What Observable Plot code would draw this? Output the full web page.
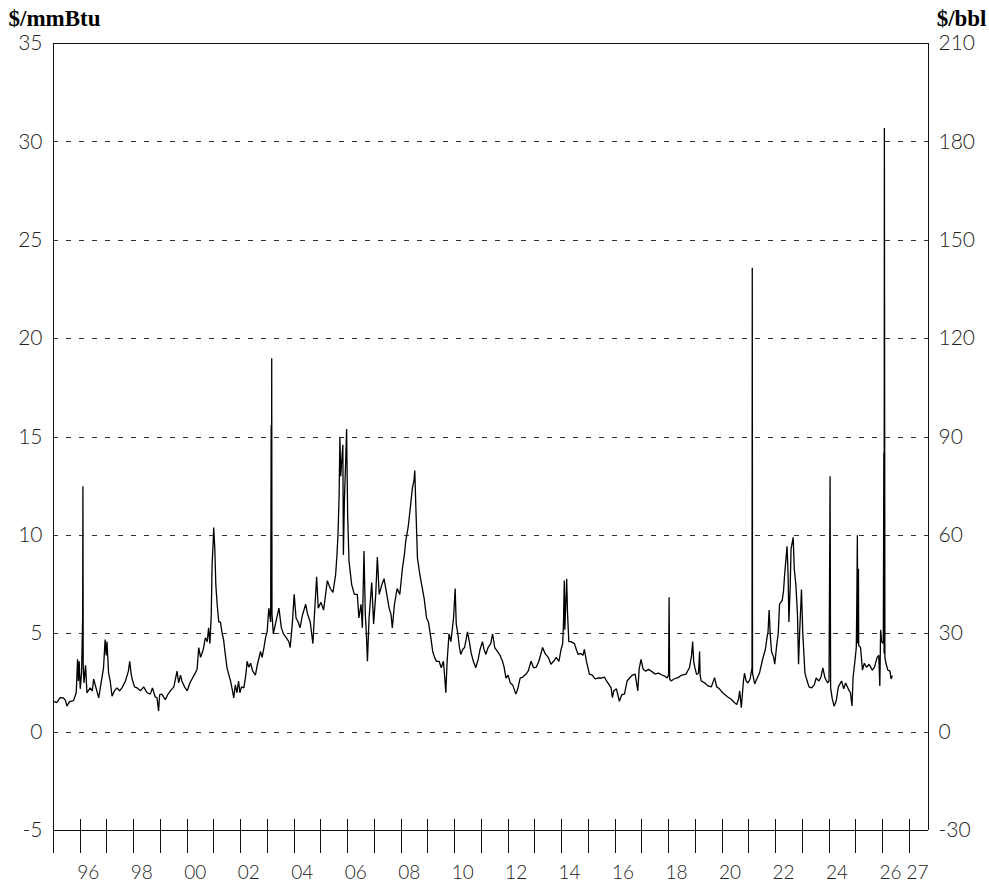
<!DOCTYPE html>
<html>
<head>
<meta charset="utf-8">
<script src="https://cdn.jsdelivr.net/npm/d3@7"></script>
<script src="https://cdn.jsdelivr.net/npm/@observablehq/plot@0.6"></script>
<style>
  html, body { margin: 0; padding: 0; background: #fff; }
  #chart svg { display: block; }
</style>
</head>
<body>
<div id="chart"></div>
<script>
// Natural gas spot price, decimal year vs $/mmBtu
const years = [
  1995.00, 1995.12, 1995.25, 1995.37, 1995.45, 1995.50, 1995.60, 1995.75, 1995.85, 1995.90,
  1995.93, 1995.96, 1996.00, 1996.05, 1996.09, 1996.10, 1996.11, 1996.14, 1996.20, 1996.25,
  1996.37, 1996.45, 1996.50, 1996.60, 1996.69, 1996.78, 1996.87, 1996.93, 1996.97, 1997.00,
  1997.06, 1997.12, 1997.19, 1997.28, 1997.37, 1997.47, 1997.56, 1997.69, 1997.80, 1997.85,
  1997.90, 1997.94, 1998.03, 1998.12, 1998.25, 1998.37, 1998.50, 1998.62, 1998.70, 1998.80,
  1998.87, 1998.93, 1998.97, 1999.05, 1999.18, 1999.27, 1999.37, 1999.50, 1999.62, 1999.68,
  1999.75, 1999.80, 1999.90, 2000.00, 2000.10, 2000.20, 2000.30, 2000.37, 2000.43, 2000.50,
  2000.60, 2000.68, 2000.75, 2000.80, 2000.85, 2000.90, 2000.93, 2000.97, 2000.99, 2001.03,
  2001.07, 2001.12, 2001.18, 2001.24, 2001.31, 2001.36, 2001.42, 2001.49, 2001.56, 2001.62,
  2001.68, 2001.74, 2001.80, 2001.86, 2001.92, 2001.97, 2002.03, 2002.12, 2002.20, 2002.24,
  2002.30, 2002.37, 2002.45, 2002.55, 2002.62, 2002.74, 2002.80, 2002.87, 2002.93, 2002.99,
  2003.05, 2003.12, 2003.14, 2003.15, 2003.16, 2003.17, 2003.22, 2003.30, 2003.43, 2003.52,
  2003.60, 2003.70, 2003.80, 2003.85, 2003.93, 2004.00, 2004.07, 2004.15, 2004.22, 2004.30,
  2004.43, 2004.50, 2004.60, 2004.70, 2004.76, 2004.84, 2004.90, 2005.00, 2005.10, 2005.24,
  2005.35, 2005.45, 2005.55, 2005.60, 2005.64, 2005.68, 2005.71, 2005.74, 2005.78, 2005.82,
  2005.84, 2005.88, 2005.92, 2005.96, 2006.00, 2006.05, 2006.15, 2006.25, 2006.36, 2006.42,
  2006.50, 2006.55, 2006.61, 2006.66, 2006.70, 2006.74, 2006.80, 2006.90, 2006.97, 2007.05,
  2007.11, 2007.18, 2007.28, 2007.36, 2007.45, 2007.55, 2007.62, 2007.67, 2007.75, 2007.85,
  2007.95, 2008.05, 2008.12, 2008.17, 2008.27, 2008.35, 2008.42, 2008.48, 2008.51, 2008.56,
  2008.61, 2008.70, 2008.78, 2008.86, 2008.95, 2009.02, 2009.11, 2009.18, 2009.25, 2009.32,
  2009.42, 2009.50, 2009.58, 2009.63, 2009.67, 2009.72, 2009.79, 2009.86, 2009.96, 2010.02,
  2010.06, 2010.12, 2010.18, 2010.23, 2010.30, 2010.37, 2010.43, 2010.48, 2010.55, 2010.62,
  2010.70, 2010.79, 2010.88, 2010.95, 2011.04, 2011.10, 2011.17, 2011.25, 2011.35, 2011.42,
  2011.50, 2011.60, 2011.70, 2011.79, 2011.85, 2011.92, 2012.00, 2012.08, 2012.17, 2012.29,
  2012.36, 2012.45, 2012.55, 2012.67, 2012.75, 2012.86, 2012.95, 2013.05, 2013.15, 2013.29,
  2013.38, 2013.50, 2013.60, 2013.70, 2013.80, 2013.90, 2013.98, 2014.04, 2014.07, 2014.10,
  2014.12, 2014.19, 2014.22, 2014.27, 2014.35, 2014.48, 2014.55, 2014.62, 2014.72, 2014.80,
  2014.85, 2014.93, 2015.04, 2015.15, 2015.25, 2015.35, 2015.48, 2015.60, 2015.68, 2015.78,
  2015.85, 2015.90, 2015.95, 2016.05, 2016.16, 2016.25, 2016.35, 2016.45, 2016.54, 2016.65,
  2016.75, 2016.85, 2016.90, 2016.97, 2017.05, 2017.15, 2017.25, 2017.35, 2017.50, 2017.62,
  2017.72, 2017.85, 2017.95, 2018.00, 2018.02, 2018.04, 2018.10, 2018.20, 2018.35, 2018.50,
  2018.65, 2018.78, 2018.86, 2018.90, 2018.94, 2018.98, 2019.05, 2019.12, 2019.16, 2019.18,
  2019.22, 2019.35, 2019.47, 2019.60, 2019.72, 2019.80, 2019.90, 2019.97, 2020.09, 2020.20,
  2020.34, 2020.47, 2020.55, 2020.62, 2020.66, 2020.72, 2020.80, 2020.84, 2020.90, 2020.97,
  2021.05, 2021.12, 2021.13, 2021.14, 2021.22, 2021.30, 2021.40, 2021.53, 2021.62, 2021.68,
  2021.72, 2021.76, 2021.80, 2021.85, 2021.93, 2021.97, 2022.05, 2022.10, 2022.15, 2022.25,
  2022.30, 2022.34, 2022.43, 2022.47, 2022.50, 2022.55, 2022.58, 2022.66, 2022.70, 2022.76,
  2022.82, 2022.86, 2022.90, 2022.95, 2022.97, 2023.02, 2023.06, 2023.10, 2023.15, 2023.25,
  2023.35, 2023.45, 2023.52, 2023.62, 2023.70, 2023.77, 2023.85, 2023.95, 2024.00, 2024.04,
  2024.06, 2024.12, 2024.19, 2024.27, 2024.35, 2024.47, 2024.55, 2024.62, 2024.72, 2024.80,
  2024.86, 2024.90, 2024.96, 2025.02, 2025.04, 2025.06, 2025.07, 2025.10, 2025.11, 2025.18,
  2025.25, 2025.32, 2025.40, 2025.50, 2025.62, 2025.70, 2025.80, 2025.86, 2025.90, 2025.93,
  2025.97, 2026.03, 2026.05, 2026.06, 2026.07, 2026.09, 2026.13, 2026.20, 2026.28, 2026.32,
  2026.36
];
const prices = [
  1.57, 1.50, 1.75, 1.74, 1.60, 1.32, 1.55, 1.60, 2.00, 3.70,
  2.60, 3.60, 2.20, 3.00, 5.80, 12.50, 3.50, 2.50, 3.40, 2.00,
  2.25, 2.10, 2.70, 2.20, 1.74, 2.50, 3.25, 4.70, 3.90, 4.60,
  3.00, 2.60, 1.83, 2.10, 2.25, 2.10, 2.25, 2.60, 3.10, 3.60,
  3.00, 2.70, 2.30, 2.25, 2.10, 2.30, 2.00, 1.93, 2.25, 1.80,
  1.74, 1.07, 1.90, 1.93, 1.65, 1.90, 2.10, 2.30, 3.10, 2.50,
  2.90, 2.60, 2.30, 2.10, 2.50, 2.75, 3.00, 3.20, 4.30, 3.80,
  4.20, 4.80, 4.60, 5.30, 4.50, 6.00, 8.50, 9.60, 10.40, 9.40,
  7.50, 6.50, 5.60, 5.60, 5.00, 4.70, 4.00, 3.25, 2.90, 2.60,
  2.20, 1.74, 2.40, 2.00, 2.60, 2.00, 2.30, 2.25, 3.00, 3.60,
  3.30, 3.50, 3.10, 2.90, 3.40, 4.10, 3.80, 4.30, 4.80, 5.10,
  6.30, 5.60, 15.60, 6.50, 19.00, 6.00, 5.00, 5.50, 6.30, 5.30,
  5.00, 4.80, 4.60, 4.30, 5.50, 7.00, 5.80, 5.60, 5.30, 5.90,
  6.50, 6.00, 5.60, 4.50, 6.00, 7.90, 6.30, 6.60, 6.20, 7.70,
  7.30, 7.10, 8.00, 9.00, 10.10, 12.00, 15.00, 13.00, 13.80, 14.60,
  9.00, 11.90, 13.50, 15.40, 11.00, 8.70, 7.50, 7.00, 7.00, 5.80,
  6.50, 5.30, 9.20, 6.00, 5.00, 3.60, 5.80, 7.60, 5.50, 7.00,
  8.90, 7.00, 7.50, 7.80, 7.10, 6.30, 6.00, 5.30, 6.50, 7.30,
  7.00, 8.35, 9.00, 9.70, 10.50, 11.50, 12.40, 12.80, 13.30, 11.00,
  8.85, 8.00, 7.40, 6.80, 5.80, 5.60, 4.80, 4.10, 3.80, 3.60,
  3.60, 3.27, 3.60, 2.80, 2.00, 3.60, 5.00, 4.60, 5.80, 7.30,
  5.50, 5.00, 4.30, 3.95, 4.20, 4.30, 4.70, 5.10, 4.60, 4.00,
  3.60, 3.27, 3.70, 4.20, 4.60, 4.20, 3.95, 4.30, 4.50, 5.00,
  4.30, 4.10, 3.90, 3.60, 3.30, 2.75, 2.90, 2.50, 2.40, 1.93,
  2.20, 2.75, 2.80, 2.95, 3.10, 3.60, 3.27, 3.30, 3.60, 4.30,
  4.00, 3.80, 3.45, 3.60, 3.80, 3.60, 4.20, 4.50, 5.50, 7.70,
  5.20, 7.80, 6.10, 4.60, 4.60, 4.50, 4.20, 3.95, 4.00, 3.90,
  4.20, 3.60, 2.95, 2.90, 2.70, 2.75, 2.75, 2.80, 2.60, 2.40,
  2.25, 1.75, 2.10, 2.20, 1.57, 1.90, 1.93, 2.60, 2.75, 2.90,
  2.95, 2.10, 3.20, 3.70, 3.20, 3.10, 3.20, 3.10, 2.95, 3.00,
  2.93, 2.85, 2.75, 2.90, 6.85, 2.70, 2.60, 2.70, 2.77, 2.90,
  2.95, 3.27, 3.90, 4.60, 3.60, 3.30, 2.93, 3.00, 4.10, 2.90,
  2.60, 2.50, 2.35, 2.30, 2.77, 2.30, 2.20, 2.08, 1.92, 1.80,
  1.67, 1.49, 1.40, 1.70, 2.10, 1.24, 2.60, 3.00, 2.60, 2.50,
  2.70, 3.27, 23.60, 3.00, 2.45, 2.70, 3.00, 3.78, 4.20, 4.80,
  5.10, 6.20, 5.00, 4.10, 3.80, 3.45, 4.50, 5.00, 6.50, 6.70,
  7.20, 8.00, 9.45, 8.00, 5.60, 7.50, 9.30, 9.90, 8.30, 7.50,
  6.00, 3.45, 5.00, 6.60, 7.25, 5.00, 4.00, 3.00, 2.75, 2.30,
  2.25, 2.40, 2.75, 2.60, 2.80, 3.27, 2.75, 2.50, 2.60, 13.00,
  2.25, 1.70, 1.32, 1.60, 2.30, 2.60, 2.20, 2.50, 2.20, 2.00,
  1.33, 2.80, 3.50, 4.30, 6.65, 10.00, 4.50, 8.30, 4.40, 4.30,
  3.15, 3.50, 3.30, 3.45, 3.15, 3.30, 3.80, 3.90, 2.35, 5.20,
  4.60, 4.50, 14.20, 4.00, 30.70, 3.80, 3.50, 3.15, 3.10, 2.70,
  2.85
];

// Axis values
const leftTicks = [-5, 0, 5, 10, 15, 20, 25, 30, 35];
const rightTicks = [-30, 0, 30, 60, 90, 120, 150, 180, 210];
const gridValues = [0, 5, 10, 15, 20, 25, 30];
const yearTicks = d3.range(1995, 2028);
const yearLabelYears = [1996, 1998, 2000, 2002, 2004, 2006, 2008, 2010, 2012, 2014, 2016, 2018, 2020, 2022, 2024, 2026];
const yearLabels = ["96", "98", "00", "02", "04", "06", "08", "10", "12", "14", "16", "18", "20", "22", "24", "26"];
const lastYearLabel = "27";
const leftUnit = "$/mmBtu";
const rightUnit = "$/bbl";
const bblPerMmBtu = 6;

const series = years.map((t, i) => ({t, v: prices[i]}));
const xMin = 1995, xMax = 2027.72, yMin = -5, yMax = 35;
const digitFont = "Lato";
const digitStyle = {fontFamily: digitFont, fontWeight: 300, fill: "#222"};

const chart = Plot.plot({
  width: 989,
  height: 892,
  marginTop: 43,
  marginRight: 61,
  marginBottom: 62,
  marginLeft: 53,
  style: {background: "#fff", overflow: "visible"},
  x: {type: "linear", domain: [xMin, xMax], axis: null},
  y: {type: "linear", domain: [yMin, yMax], axis: null},
  marks: [
    // dashed gridlines
    Plot.ruleY(gridValues, {stroke: "#333", strokeWidth: 1, strokeDasharray: "5,8", shapeRendering: "crispEdges"}),
    // frame: top, bottom axis line, left and right sides
    Plot.ruleY([yMax, yMin], {stroke: "#111", strokeWidth: 1, shapeRendering: "crispEdges"}),
    Plot.ruleX([xMax], {y1: yMax, y2: yMin, stroke: "#111", strokeWidth: 1, shapeRendering: "crispEdges"}),
    Plot.ruleX([xMin], {y1: yMax, y2: yMin, stroke: "#111", strokeWidth: 1, insetBottom: -23, shapeRendering: "crispEdges"}),
    // yearly ticks crossing the bottom axis
    Plot.ruleX(yearTicks, {x: d => d, y1: yMin, y2: yMin, insetTop: -11, insetBottom: -23, stroke: "#111", strokeWidth: 1, shapeRendering: "crispEdges"}),
    // price line
    Plot.line(series, {x: "t", y: "v", stroke: "#000", strokeWidth: 1.3, strokeLinejoin: "miter"}),
    // year labels
    Plot.text(yearLabelYears, {
      x: d => d, y: yMin, dy: 42, dx: -3,
      text: (d, i) => yearLabels[i], textAnchor: "start", fontSize: 19, ...digitStyle
    }),
    // final year label, set flush with the right edge of the frame
    Plot.text([lastYearLabel], {
      x: xMax, y: yMin, dy: 42, dx: 0,
      text: d => d, textAnchor: "end", fontSize: 19, ...digitStyle
    }),
    // left axis labels
    Plot.text(leftTicks, {
      x: xMin, y: d => d, dx: -11, text: d => String(d), textAnchor: "end", fontSize: 21, ...digitStyle
    }),
    // right axis labels in $/bbl
    Plot.text(rightTicks, {
      x: xMax, y: d => d / bblPerMmBtu, dx: 10, text: d => String(d), textAnchor: "start", fontSize: 21, ...digitStyle
    }),
    // unit titles
    Plot.text([leftUnit], {
      frameAnchor: "top-left", lineAnchor: "middle", dx: -45, dy: -25, text: d => d, textAnchor: "start",
      fontFamily: "Liberation Serif", fontWeight: "bold", fontSize: 23, fill: "#000"
    }),
    Plot.text([rightUnit], {
      frameAnchor: "top-right", lineAnchor: "middle", dx: 58, dy: -25, text: d => d, textAnchor: "end",
      fontFamily: "Liberation Serif", fontWeight: "bold", fontSize: 23, fill: "#000"
    })
  ]
});

document.getElementById("chart").append(chart);
</script>
</body>
</html>
